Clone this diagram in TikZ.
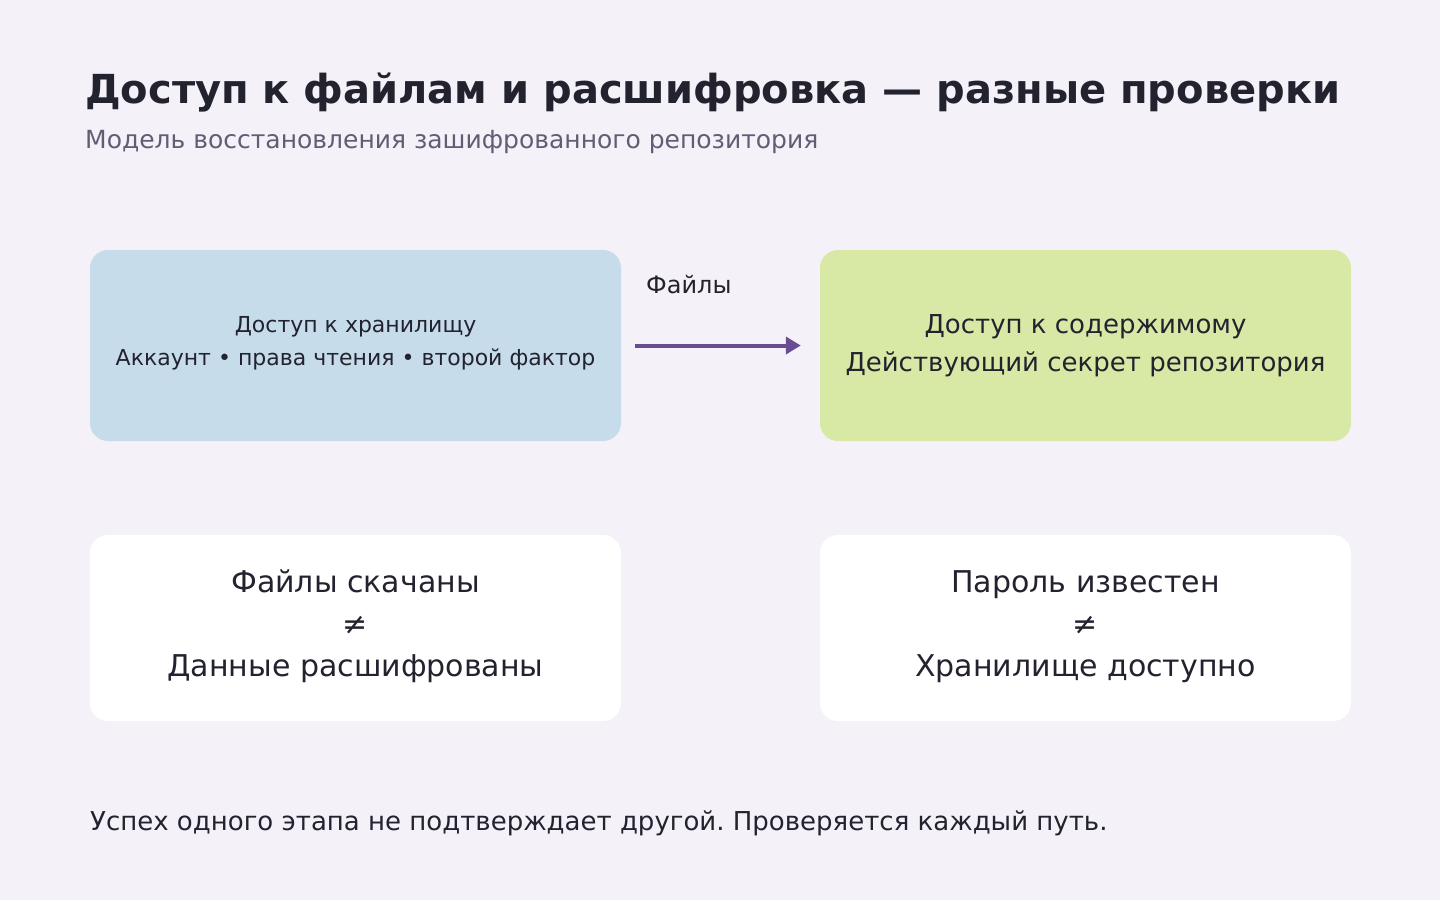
\documentclass[tikz,border=0pt]{standalone}
\usepackage{fontspec}
\setmainfont{DejaVu Sans}
\frenchspacing
\usetikzlibrary{arrows.meta, positioning}

\definecolor{bgpage}{HTML}{F4F2F8}
\definecolor{inkdark}{HTML}{23222F}
\definecolor{inkgray}{HTML}{625D75}
\definecolor{boxblue}{HTML}{C6DCEA}
\definecolor{boxgreen}{HTML}{D7E9A5}
\definecolor{arrowpurple}{HTML}{6A4C93}

\tikzset{
  panel/.style={rounded corners=18pt, minimum width=531pt, inner sep=0pt, align=center, text=inkdark},
}

\begin{document}
\begin{tikzpicture}[x=1pt, y=-1pt]
\useasboundingbox[fill=bgpage] (0,0) rectangle (1440,900);

% Title
\path
(85,103) node[anchor=base west, inner sep=0, text=inkdark, font=\fontsize{40}{40}\selectfont\bfseries] (title) {Доступ к файлам и расшифровка — разные проверки}
(85,148) node[anchor=base west, inner sep=0, text=inkgray, font=\fontsize{25}{25}\selectfont] (subtitle) {Модель восстановления зашифрованного репозитория}
;

% Top row
\path
(355.5,345.5) node[panel, fill=boxblue, minimum height=191pt, text depth=10pt, font=\fontsize{22}{33}\selectfont] (storage) {Доступ к хранилищу\\Аккаунт • права чтения • второй фактор}
(1085.5,345.5) node[panel, fill=boxgreen, minimum height=191pt, font=\fontsize{26}{38}\selectfont] (content) {Доступ к содержимому\\Действующий секрет репозитория}
(646,293) node[anchor=base west, inner sep=0, text=inkdark, font=\fontsize{24}{24}\selectfont] (fileslbl) {Файлы}
;

\draw[arrowpurple, line width=4pt, shorten <=14pt, shorten >=19pt, -{Triangle[length=15pt, width=17pt]}]
(storage) -- (content);

% Bottom row
\path
(355.5,628) node[panel, fill=white, minimum height=186pt, text depth=9pt, font=\fontsize{30}{42}\selectfont] (downloaded) {Файлы скачаны\\≠\\Данные расшифрованы}
(1085.5,628) node[panel, fill=white, minimum height=186pt, text depth=9pt, font=\fontsize{30}{42}\selectfont] (password) {Пароль известен\\≠\\Хранилище доступно}
;

% Footer
\node[anchor=base west, inner sep=0, text=inkdark, font=\fontsize{26}{26}\selectfont] (footer) at (90,830)
{Успех одного этапа не подтверждает другой. Проверяется каждый путь.};

\end{tikzpicture}
\end{document}
